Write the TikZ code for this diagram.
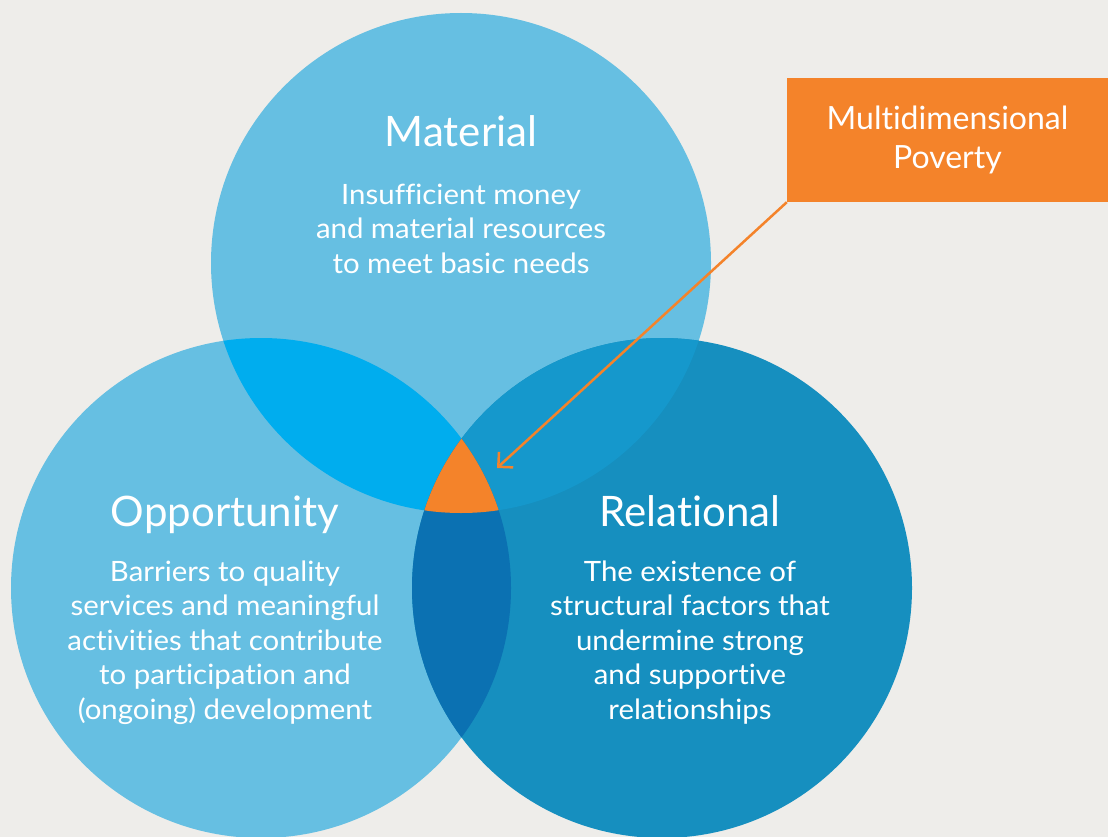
\documentclass[tikz,border=0pt]{standalone}
\usepackage{fontspec}
\setmainfont{Lato}[Ligatures=NoCommon]
\newfontfamily\blurbfont{Lato}[FakeStretch=1.05,Ligatures=NoCommon]
\usepackage{tikz}
\usetikzlibrary{positioning}
\usetikzlibrary{arrows.meta}
\definecolor{paper}{HTML}{EEEDEA}
\definecolor{lightblue}{HTML}{66BFE2}
\definecolor{darkblue}{HTML}{168FBF}
\definecolor{matopp}{HTML}{00ADEE}
\definecolor{matrel}{HTML}{1598CC}
\definecolor{opprel}{HTML}{0B71B2}
\definecolor{povorange}{HTML}{F4832A}
\def\matcircle{(461,263) circle (250)}
\def\oppcircle{(261,588) circle (250)}
\def\relcircle{(662,588) circle (250)}
\tikzstyle{heading} = [text=white, anchor=base, font=\fontsize{42}{48}\selectfont]
\tikzstyle{blurb} = [text=white, anchor=base, align=center, font=\blurbfont\fontsize{28}{34.5}\selectfont]
\tikzstyle{povbox} = [fill=povorange, text=white, align=center, minimum width=321pt, minimum height=124pt, font=\fontsize{32}{39}\selectfont]
\tikzstyle{pointer} = [line width=2.5pt, draw=povorange, -{Straight Barb[length=10.6pt,width=21pt]}]

\begin{document}
\begin{tikzpicture}[x=1pt,y=-1pt]
\fill[paper] (0,0) rectangle (1108,837);
\useasboundingbox (0,0) rectangle (1108,837);
% the three circles
\fill[lightblue] \matcircle;
\fill[lightblue] \oppcircle;
\fill[darkblue] \relcircle;
% overlaps
\begin{scope}
\clip \matcircle;
\fill[matopp] \oppcircle;
\fill[matrel] \relcircle;
\end{scope}
\begin{scope}
\clip \oppcircle;
\fill[opprel] \relcircle;
\end{scope}
\begin{scope}
\clip \matcircle;
\clip \oppcircle;
\fill[povorange] \relcircle;
\end{scope}
% labels (base = last line)
\node[heading] (mat) at (461,147) {Material};
\node[blurb] (matt) at (461,273) {Insufficient money\\and material resources\\to meet basic needs};
\node[heading] (opp) at (225,526) {Opportunity};
\node[blurb] (oppt) at (225,719) {Barriers to quality\\services and meaningful\\activities that contribute\\to participation and\\(ongoing) development};
\node[heading] (rel) at (690,526) {Relational};
\node[blurb] (relt) at (690,719) {The existence of\\structural factors that\\undermine strong\\and supportive\\relationships};
\node[povbox] (mdp) at (947.5,140) {Multidimensional\\Poverty};
\coordinate (core) at (497,468);
\draw[pointer] (mdp.south west) -- (core);
\end{tikzpicture}
\end{document}
